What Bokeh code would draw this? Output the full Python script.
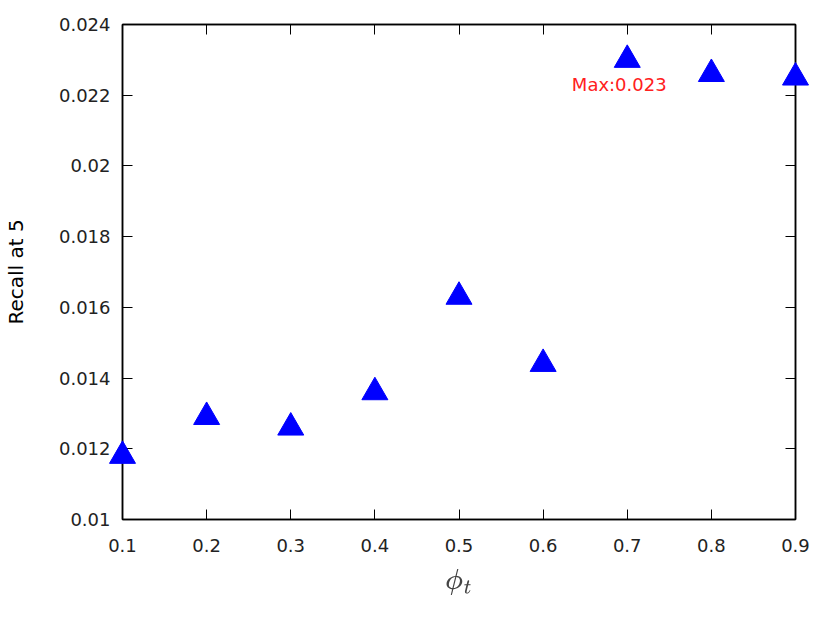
from bokeh.plotting import figure
from bokeh.models import (LinearAxis, FixedTicker, Label, Range1d, ColumnDataSource,
                          CustomLabelingPolicy)
from bokeh.embed import file_html
from bokeh.resources import INLINE

# ---- data ----
phi = [0.1, 0.2, 0.3, 0.4, 0.5, 0.6, 0.7, 0.8, 0.9]
recall = [0.0118, 0.0129, 0.0126, 0.0136, 0.0163, 0.0144, 0.0230, 0.0226, 0.0225]

x_ticks = [0.1, 0.2, 0.3, 0.4, 0.5, 0.6, 0.7, 0.8, 0.9]
x_tick_labels = ["0.1", "0.2", "0.3", "0.4", "0.5", "0.6", "0.7", "0.8", "0.9"]
y_ticks = [0.010, 0.012, 0.014, 0.016, 0.018, 0.020, 0.022, 0.024]
y_tick_labels = ["0.01", "0.012", "0.014", "0.016", "0.018", "0.02", "0.022", "0.024"]

x_title = r"$$\phi_t$$"
y_title = "Recall at 5"

FONT = "DejaVu Sans"

p = figure(frame_width=673, frame_height=495,
           x_range=Range1d(0.1, 0.9), y_range=Range1d(0.010, 0.024),
           output_backend="svg", toolbar_location=None,
           min_border_left=115, min_border_top=24, min_border_right=26,
           min_border_bottom=88)
p.background_fill_color = "white"
p.border_fill_color = "white"
p.grid.visible = False
p.outline_line_color = "black"
p.outline_line_width = 1.5

hide_labels = CustomLabelingPolicy(code="""
try { indices.clear() } catch (e) { for (const i of Array.from(indices)) indices.unset(i) }
return indices
""")

def style_axis(ax, ticks, labels, show_labels=True):
    ax.ticker = FixedTicker(ticks=ticks)
    ax.major_label_overrides = {t: l for t, l in zip(ticks, labels)}
    ax.major_tick_in = 10
    ax.major_tick_out = 0
    ax.minor_tick_in = 0
    ax.minor_tick_out = 0
    ax.axis_line_color = "black"
    ax.axis_line_width = 1.5
    ax.major_tick_line_color = "black"
    ax.major_tick_line_width = 1
    ax.major_label_text_font = FONT
    ax.major_label_text_font_size = "18px"
    ax.major_label_text_color = "#222222"
    if not show_labels:
        ax.major_label_policy = hide_labels

style_axis(p.xaxis[0], x_ticks, x_tick_labels)
style_axis(p.yaxis[0], y_ticks, y_tick_labels)
p.xaxis[0].major_label_standoff = 19
p.yaxis[0].major_label_standoff = 12

p.xaxis[0].axis_label = x_title
p.xaxis[0].axis_label_text_font_size = "24px"
p.xaxis[0].axis_label_standoff = 14
p.yaxis[0].axis_label = y_title
p.yaxis[0].axis_label_text_font = FONT
p.yaxis[0].axis_label_text_font_size = "20px"
p.yaxis[0].axis_label_text_font_style = "normal"
p.yaxis[0].axis_label_text_color = "black"
p.yaxis[0].axis_label_standoff = 28

top = LinearAxis()
style_axis(top, x_ticks, x_tick_labels, show_labels=False)
p.add_layout(top, "above")
right = LinearAxis()
style_axis(right, y_ticks, y_tick_labels, show_labels=False)
p.add_layout(right, "right")

src = ColumnDataSource(dict(x=phi, y=recall))
r = p.scatter("x", "y", source=src, marker="triangle", size=26,
              fill_color="#0000ff", line_color="#0000ff", level="overlay")

imax = recall.index(max(recall))
lab = Label(x=phi[imax], y=recall[imax], text=f"Max:{recall[imax]:.3f}",
            text_color="#ff2020", text_font=FONT, text_font_size="18px",
            text_align="center", text_baseline="alphabetic",
            x_offset=-8, y_offset=-25)
p.add_layout(lab)

open("out.html", "w").write(file_html(p, INLINE))
